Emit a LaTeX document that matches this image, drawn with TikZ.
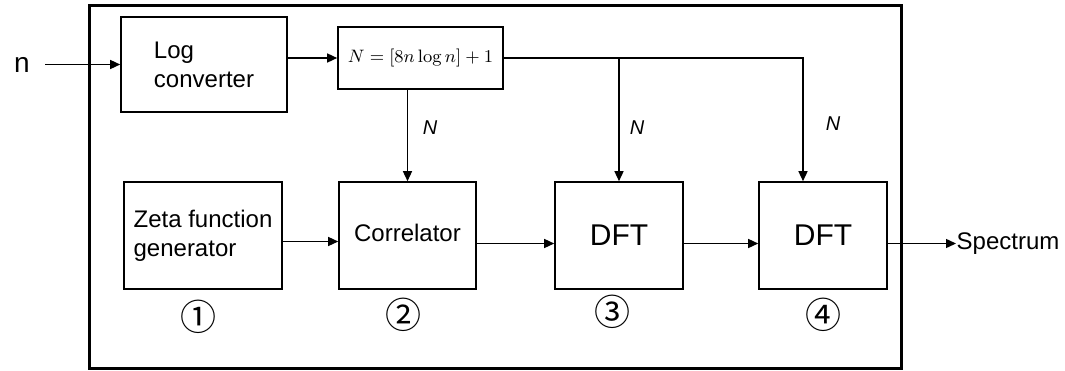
\documentclass[tikz,border=0pt]{standalone}
\usepackage[no-math]{fontspec}
\setmainfont{Liberation Sans}
\newfontfamily\circfont{Noto Sans CJK SC}
\usetikzlibrary{arrows.meta}

\begin{document}
\begin{tikzpicture}[x=0.5pt,y=-0.5pt,line width=0.7pt,>={Triangle[length=5pt,width=4.5pt]},
  block/.style={draw,line width=0.8pt,inner sep=0pt,minimum height=53.5pt,font=\fontsize{12}{14.5}\selectfont},
  lbl/.style={font=\fontsize{10}{12}\selectfont\itshape},
  num/.style={font=\circfont\fontsize{18}{18}\selectfont}]
\useasboundingbox (0,0) rectangle (1065,370);
% ---------- frame ----------
\draw[line width=1.5pt] (89,5) rectangle (901,368);
% ---------- upper row ----------
\node[font=\fontsize{14}{14}\selectfont] (n) at (22,64.5) {n};
\node[block,minimum width=83pt,minimum height=47.5pt,align=left] (log) at (204,64.5) {Log\\converter};
\node[block,minimum width=82.5pt,minimum height=31pt,font=\fontsize{9.5}{12}\selectfont] (fbox) at (420.5,58) {$N=[8n\log n]+1$};
% ---------- lower row ----------
\node[block,minimum width=79pt,align=left] (zeta) at (203,235.5) {Zeta function\\generator};
\node[block,minimum width=68.5pt] (corr) at (407.5,235.5) {\raisebox{3pt}{Correlator}};
\node[block,minimum width=64pt,font=\fontsize{15}{15}\selectfont] (dft1) at (619,235.5) {DFT};
\node[block,minimum width=64pt,font=\fontsize{15}{15}\selectfont] (dft2) at (823,235.5) {DFT};
\node[anchor=west,inner sep=0pt,font=\fontsize{12}{14}\selectfont] (spec) at (956,243.5) {Spectrum};
% ---------- labels ----------
\node[lbl] (n1) at (430,128) {N};
\node[lbl] (n2) at (637,128) {N};
\node[lbl] (n3) at (833,124) {N};
\node[num] (c1) at (198,317) {①};
\node[num] (c2) at (403,315) {②};
\node[num] (c3) at (612,312) {③};
\node[num] (c4) at (823,315) {④};
% ---------- connectors ----------
\draw[->,shorten <=4pt] (n) -- (log);
\draw[->] (log.east |- fbox) -- (fbox);
\draw[->] (fbox.south -| corr.north) -- (corr.north);
\draw[->] (fbox.east) -| ([xshift=-10pt]dft2.north);
\draw[->] (fbox.east -| dft1.north) -- (dft1.north);
\draw[->] ([yshift=-3pt]zeta.east) -- ([yshift=-3pt]corr.west);
\draw[->] ([yshift=-4pt]corr.east) -- ([yshift=-4pt]dft1.west);
\draw[->] ([yshift=-4pt]dft1.east) -- ([yshift=-4pt]dft2.west);
\draw[->] ([yshift=-4pt]dft2.east) -- (spec.west);
\end{tikzpicture}
\end{document}
